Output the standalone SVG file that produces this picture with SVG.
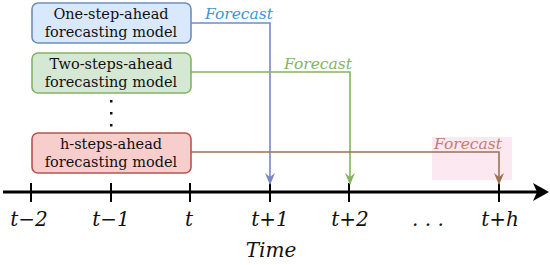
<svg xmlns="http://www.w3.org/2000/svg" width="550" height="265" viewBox="0 0 550 265">
<style>
.box{stroke-width:1.6}
.bt{font-family:"DejaVu Serif",serif;font-size:14.5px;fill:#111;text-anchor:middle}
.fc{font-family:"DejaVu Serif",serif;font-style:italic;font-size:15.5px}
.tk{font-family:"DejaVu Serif",serif;font-style:italic;font-size:20px;fill:#111;text-anchor:middle}
.ln{fill:none;stroke-width:1.6}
</style>
<defs>
<marker id="ab" markerWidth="12" markerHeight="10" refX="11" refY="5" orient="auto" markerUnits="userSpaceOnUse" viewBox="0 0 12 10"><path d="M0,0 L12,5 L0,10 L4,5 Z" fill="#7a86c8"/></marker>
<marker id="ag" markerWidth="12" markerHeight="10" refX="11" refY="5" orient="auto" markerUnits="userSpaceOnUse" viewBox="0 0 12 10"><path d="M0,0 L12,5 L0,10 L4,5 Z" fill="#86b35e"/></marker>
<marker id="ar" markerWidth="12" markerHeight="10" refX="11" refY="5" orient="auto" markerUnits="userSpaceOnUse" viewBox="0 0 12 10"><path d="M0,0 L12,5 L0,10 L4,5 Z" fill="#9b7350"/></marker>
</defs>
<rect width="550" height="265" fill="#fff"/>
<rect x="432" y="137" width="80" height="43" fill="#fce8f0"/>

<g id="axis">
<line x1="3" y1="192" x2="538" y2="192" stroke="#000" stroke-width="3"/>
<path d="M533,183 L549,192 L533,201 L537,192 Z" fill="#000"/>
<g stroke="#000" stroke-width="2">
<line x1="31" y1="183" x2="31" y2="202"/>
<line x1="111" y1="183" x2="111" y2="202"/>
<line x1="190" y1="183" x2="190" y2="202"/>
<line x1="270" y1="183" x2="270" y2="202"/>
<line x1="349" y1="183" x2="349" y2="202"/>
<line x1="499" y1="183" x2="499" y2="202"/>
</g>
<text class="tk" x="29" y="226">t−2</text>
<text class="tk" x="111" y="226">t−1</text>
<text class="tk" x="189" y="226">t</text>
<text class="tk" x="270" y="226">t+1</text>
<text class="tk" x="350" y="226">t+2</text>
<text class="tk" x="428" y="226">. . .</text>
<text class="tk" x="500" y="226">t+h</text>
<text class="tk" x="271" y="257">Time</text>
</g>

<g id="node1">
<rect class="box" x="32" y="3" width="159" height="40" rx="6" fill="#dae8fc" stroke="#6c8ebf"/>
<text class="bt" x="111" y="19">One-step-ahead</text>
<text class="bt" x="111" y="37">forecasting model</text>
</g>
<g id="node2">
<rect class="box" x="32" y="53" width="159" height="40" rx="6" fill="#d5e8d4" stroke="#82b366"/>
<text class="bt" x="111" y="69">Two-steps-ahead</text>
<text class="bt" x="111" y="87">forecasting model</text>
</g>
<g id="dots" fill="#111">
<rect x="110" y="100" width="2.5" height="2.5"/>
<rect x="110" y="112" width="2.5" height="2.5"/>
<rect x="110" y="124" width="2.5" height="2.5"/>
</g>
<g id="node3">
<rect class="box" x="32" y="133" width="159" height="40" rx="6" fill="#f8cecc" stroke="#b85450"/>
<text class="bt" x="111" y="149">h-steps-ahead</text>
<text class="bt" x="111" y="167">forecasting model</text>
</g>

<g id="connectors">
<path class="ln" d="M191,23 H270 V184" stroke="#7a86c8" marker-end="url(#ab)"/>
<path class="ln" d="M191,72 H350 V184" stroke="#86b35e" marker-end="url(#ag)"/>
<path class="ln" d="M191,152 H499 V184" stroke="#9b7350" marker-end="url(#ar)"/>
<text class="fc" x="205" y="19" fill="#3a96dc">Forecast</text>
<text class="fc" x="284" y="69" fill="#86b35e">Forecast</text>
<text class="fc" x="434" y="149" fill="#c47d70">Forecast</text>
</g>
</svg>
